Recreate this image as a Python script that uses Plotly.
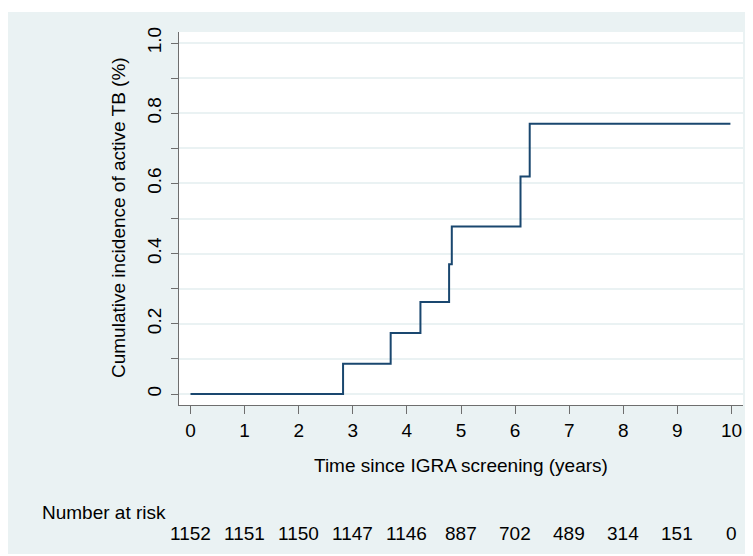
import plotly.graph_objects as go

# Data
times = [0, 2.82, 3.70, 4.25, 4.78, 4.83, 6.10, 6.27, 9.98]
cum_inc = [0, 0.086, 0.174, 0.262, 0.370, 0.477, 0.620, 0.770, 0.770]
x_ticks = [0, 1, 2, 3, 4, 5, 6, 7, 8, 9, 10]
at_risk = [1152, 1151, 1150, 1147, 1146, 887, 702, 489, 314, 151, 0]
y_ticks = [0, 0.2, 0.4, 0.6, 0.8, 1.0]
y_ticktext = ["0", "0.2", "0.4", "0.6", "0.8", "1.0"]

OFF = 8  # the page body margin shifts the figure by 8px
W, H = 753 - OFF, 546
# plot area bounds, in page pixels of the reference
L, R, T, B = 179, 743, 32, 405
PW, PH = R - L, B - T

def px_x(px):
    return (px - L) / PW

def px_y(py):
    return (B - py) / PH

FONT = "Arial, 'Liberation Sans', Helvetica, sans-serif"
PANEL = "#eaf2f3"
NAVY = "#1a476f"
AXIS = "#6e6e6e"

fig = go.Figure()
fig.add_trace(go.Scatter(
    x=times, y=cum_inc, mode="lines", line=dict(color=NAVY, width=2, shape="hv"),
    hoverinfo="skip", showlegend=False))

x0 = 190.5
xscale = (731.5 - 190.5) / 10
xr = [(L - x0) / xscale, (R - x0) / xscale]
y0p, y1p = 394, 43
yscale = (y0p - y1p) / 1.0
yr = [(y0p - B) / yscale, (y0p - T) / yscale]

fig.update_layout(
    width=W, height=H,
    margin=dict(l=L - OFF, r=W - (R - OFF), t=T - OFF, b=H - (B - OFF), pad=0),
    paper_bgcolor=PANEL, plot_bgcolor="white",
    font=dict(family=FONT, size=19, color="black"),
    xaxis=dict(range=xr, tickvals=x_ticks, ticks="outside", ticklen=8, tickwidth=1.3,
               tickcolor=AXIS, showline=True, linecolor=AXIS, linewidth=1.3,
               showgrid=False, zeroline=False, tickfont=dict(size=19)),
    yaxis=dict(range=yr, tickvals=y_ticks, ticktext=y_ticktext, tickangle=-90,
               ticks="outside", ticklen=7, tickwidth=1.3, tickcolor=AXIS,
               showline=True, linecolor=AXIS, linewidth=1.3, ticklabelstandoff=2,
               showgrid=True, gridcolor=PANEL, gridwidth=1.6, zeroline=False,
               tickfont=dict(size=19),
               minor=dict(dtick=0.1, tick0=0, ticks="outside", ticklen=7, tickwidth=1.3,
                          tickcolor=AXIS, showgrid=True, gridcolor=PANEL, gridwidth=1.6)),
)

# white strip above the grey panel (panel starts at page y=12)
fig.add_shape(type="rect", xref="paper", yref="paper", x0=px_x(0), x1=px_x(760),
              y0=px_y(12), y1=px_y(0), fillcolor="white", line_width=0, layer="below")

fig.add_annotation(text="Cumulative incidence of active TB (%)", xref="paper", yref="paper",
                   x=px_x(118), y=px_y(218), textangle=-90, showarrow=False,
                   xanchor="center", yanchor="middle", font=dict(size=19))
fig.add_annotation(text="Time since IGRA screening (years)", xref="paper", yref="paper",
                   x=px_x(461), y=px_y(466), showarrow=False,
                   xanchor="center", yanchor="middle", font=dict(size=19))
fig.add_annotation(text="Number at risk", xref="paper", yref="paper",
                   x=px_x(40), y=px_y(512), showarrow=False,
                   xanchor="left", yanchor="middle", font=dict(size=19))
for xv, n in zip(x_ticks, at_risk):
    fig.add_annotation(text=str(n), xref="x", yref="paper", x=xv, y=px_y(533),
                       showarrow=False, xanchor="center", yanchor="middle",
                       font=dict(size=19))

fig.write_html("out.html")
